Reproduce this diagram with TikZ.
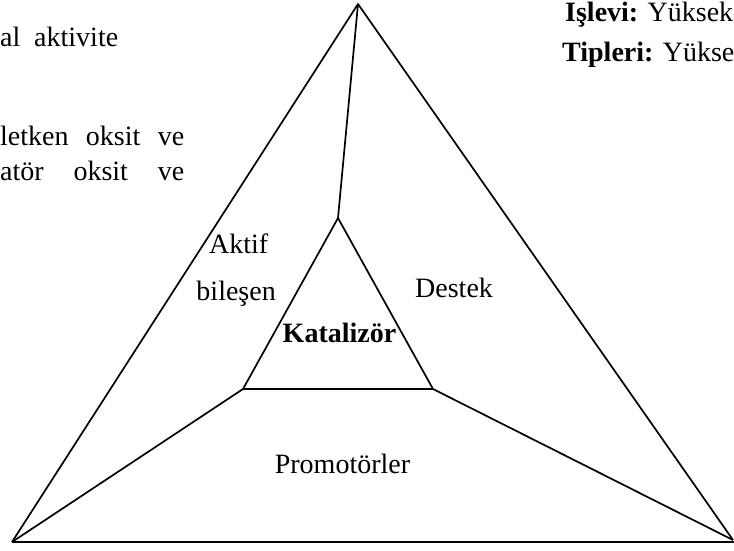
\documentclass[tikz,border=0pt]{standalone}
\usepackage{fontspec}
\setmainfont{Liberation Serif}
\begin{document}
\begin{tikzpicture}[x=1pt,y=-1pt,
  edge/.style={line width=1.7pt,line join=round},
  base/.style={line width=2.4pt},
  lbl/.style={inner sep=0pt,font=\fontsize{28}{34}\selectfont}]
\useasboundingbox (0,0) rectangle (734,550);
% vertices
\coordinate (T) at (358,4);
\coordinate (L) at (12,542);
\coordinate (R) at (733,540);
\coordinate (RE) at (734,542);
\coordinate (it) at (338,218);
\coordinate (il) at (243,389);
\coordinate (ir) at (433,389);
% outer triangle
\draw[edge] (L) -- (T) -- (R);
\draw[base] (L) -- (RE);
% inner triangle
\draw[edge] (it) -- (il) -- (ir) -- cycle;
% spokes
\draw[edge] (T) -- (it);
\draw[edge] (il) -- (L);
\draw[edge] (ir) -- (R);
% labels
\node[lbl,anchor=base west] (aktif) at (209,253) {Aktif};
\node[lbl,anchor=base east] (bil) at (276,300) {bileşen};
\node[lbl,anchor=base] (kat) at (339.5,342) {\textbf{Katalizör}};
\node[lbl,anchor=base west] (des) at (415,297) {Destek};
\node[lbl,anchor=base] (pro) at (342.5,473) {Promotörler};
% side texts
\node[lbl,anchor=base west] (t1) at (0,46) {\makebox[118pt][s]{al\hfil aktivite}};
\node[lbl,anchor=base west] (t2) at (0,145) {\makebox[184pt][s]{letken\hfil oksit\hfil ve}};
\node[lbl,anchor=base west] (t3) at (0,180) {\makebox[184pt][s]{atör\hfil oksit\hfil ve}};
\node[lbl,anchor=base west] (r1) at (565,21) {\textbf{Işlevi:} Yüksek};
\node[lbl,anchor=base west] (r2) at (562,61) {\textbf{Tipleri:} Yükse};
\end{tikzpicture}
\end{document}
